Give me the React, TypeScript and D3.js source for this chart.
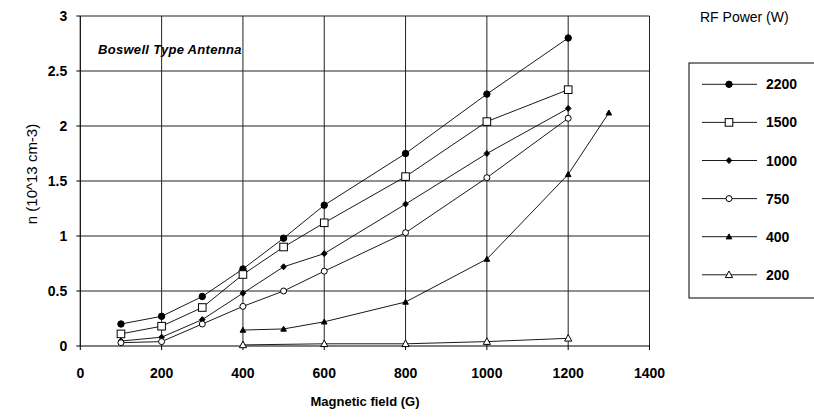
import React from "react";
import * as d3 from "d3";

const fields = [100, 200, 300, 400, 500, 600, 800, 1000, 1200];
const p2200 = [0.2, 0.27, 0.45, 0.7, 0.98, 1.28, 1.75, 2.29, 2.8];
const p1500 = [0.11, 0.18, 0.35, 0.65, 0.9, 1.12, 1.54, 2.04, 2.33];
const p1000 = [0.045, 0.08, 0.24, 0.48, 0.72, 0.84, 1.29, 1.75, 2.16];
const p750 = [0.03, 0.04, 0.2, 0.36, 0.5, 0.68, 1.03, 1.53, 2.07];
const fields400 = [400, 500, 600, 800, 1000, 1200, 1300];
const p400 = [0.145, 0.155, 0.22, 0.4, 0.79, 1.56, 2.12];
const fields200 = [400, 600, 800, 1000, 1200];
const p200 = [0.01, 0.02, 0.02, 0.04, 0.07];

const xTicks = [0, 200, 400, 600, 800, 1000, 1200, 1400];
const yTicks = [0, 0.5, 1, 1.5, 2, 2.5, 3];
const legendLabels = ["2200", "1500", "1000", "750", "400", "200"];

type Sym = "circleF" | "squareO" | "diamondF" | "diamondO" | "triF" | "triO";

const series: { name: string; xs: number[]; ys: number[]; sym: Sym }[] = [
  { name: legendLabels[0], xs: fields, ys: p2200, sym: "circleF" },
  { name: legendLabels[1], xs: fields, ys: p1500, sym: "squareO" },
  { name: legendLabels[2], xs: fields, ys: p1000, sym: "diamondF" },
  { name: legendLabels[3], xs: fields, ys: p750, sym: "diamondO" },
  { name: legendLabels[4], xs: fields400, ys: p400, sym: "triF" },
  { name: legendLabels[5], xs: fields200, ys: p200, sym: "triO" },
];

function Marker({ sym, x, y }: { sym: Sym; x: number; y: number }) {
  const st = { stroke: "#000", strokeWidth: 1 };
  switch (sym) {
    case "circleF":
      return <circle cx={x} cy={y} r={3.2} fill="#000" {...st} />;
    case "squareO":
      return <rect x={x - 3.8} y={y - 3.8} width={7.6} height={7.6} fill="#fff" {...st} />;
    case "diamondF":
      return <path d={`M${x},${y - 3}L${x + 2.8},${y}L${x},${y + 3}L${x - 2.8},${y}Z`} fill="#000" {...st} />;
    case "diamondO":
      return <circle cx={x} cy={y} r={3} fill="#fff" {...st} />;
    case "triF":
      return <path d={`M${x},${y - 2.8}L${x + 2.8},${y + 2.2}L${x - 2.8},${y + 2.2}Z`} fill="#000" {...st} />;
    case "triO":
      return <path d={`M${x},${y - 3.8}L${x + 3.6},${y + 2.8}L${x - 3.6},${y + 2.8}Z`} fill="#fff" {...st} />;
  }
}

export default function App() {
  const W = 814, H = 417;
  const x = d3.scaleLinear().domain([0, 1400]).range([80.3, 649.5]);
  const y = d3.scaleLinear().domain([0, 3]).range([346, 16]);
  const line = d3.line<[number, number]>().x(d => x(d[0])).y(d => y(d[1]));
  const font = "Arial, 'Liberation Sans', Helvetica, sans-serif";

  return (
    <svg width={W} height={H} style={{ position: "absolute", left: 0, top: 0, background: "#fff" }} fontFamily={font}>
      <rect width={W} height={H} fill="#fff" />
      {/* grid */}
      {xTicks.slice(1).map(t => (
        <line key={"gx" + t} x1={x(t)} x2={x(t)} y1={y(3)} y2={y(0)} stroke="#222" strokeWidth={1} />
      ))}
      {yTicks.slice(1).map(t => (
        <line key={"gy" + t} x1={x(0)} x2={x(1400)} y1={y(t)} y2={y(t)} stroke="#222" strokeWidth={1} />
      ))}
      {/* axes */}
      <line x1={x(0)} x2={x(0)} y1={y(3)} y2={y(0)} stroke="#000" strokeWidth={1.2} />
      <line x1={x(0)} x2={x(1400)} y1={y(0)} y2={y(0)} stroke="#000" strokeWidth={1.2} />
      {yTicks.map(t => (
        <line key={"ty" + t} x1={x(0) - 4} x2={x(0)} y1={y(t)} y2={y(t)} stroke="#000" />
      ))}
      {xTicks.map(t => (
        <line key={"tx" + t} x1={x(t)} x2={x(t)} y1={y(0)} y2={y(0) + 4} stroke="#000" />
      ))}
      {yTicks.map(t => (
        <text key={"ly" + t} x={x(0) - 13} y={y(t) + 5} textAnchor="end" fontSize={14} fontWeight="bold">{String(t)}</text>
      ))}
      {xTicks.map(t => (
        <text key={"lx" + t} x={x(t)} y={378} textAnchor="middle" fontSize={14} fontWeight="bold">{String(t)}</text>
      ))}
      <text x={365} y={406} textAnchor="middle" fontSize={13} fontWeight="bold">Magnetic field (G)</text>
      <text transform={`translate(37,174) rotate(-90)`} textAnchor="middle" fontSize={15}>n (10^13 cm-3)</text>
      <text x={98} y={54} fontSize={13} fontWeight="900" fontStyle="italic" letterSpacing={0.3}>Boswell Type Antenna</text>

      {/* series */}
      {series.map(s => (
        <g key={s.name}>
          <path d={line(s.xs.map((v, i) => [v, s.ys[i]] as [number, number])) || ""} fill="none" stroke="#000" strokeWidth={0.9} />
          {s.xs.map((v, i) => (
            <Marker key={i} sym={s.sym} x={x(v)} y={y(s.ys[i])} />
          ))}
        </g>
      ))}

      {/* legend */}
      <text x={700} y={22} fontSize={14}>RF Power (W)</text>
      <rect x={689} y={63} width={140} height={235} fill="#fff" stroke="#000" strokeWidth={1} />
      {series.map((s, i) => {
        const ly = 84.3 + i * 38.1;
        return (
          <g key={"lg" + s.name}>
            <line x1={702} x2={757} y1={ly} y2={ly} stroke="#000" strokeWidth={0.9} />
            <Marker sym={s.sym} x={729} y={ly} />
            <text x={766} y={ly + 5} fontSize={14} fontWeight="bold">{s.name}</text>
          </g>
        );
      })}
    </svg>
  );
}
